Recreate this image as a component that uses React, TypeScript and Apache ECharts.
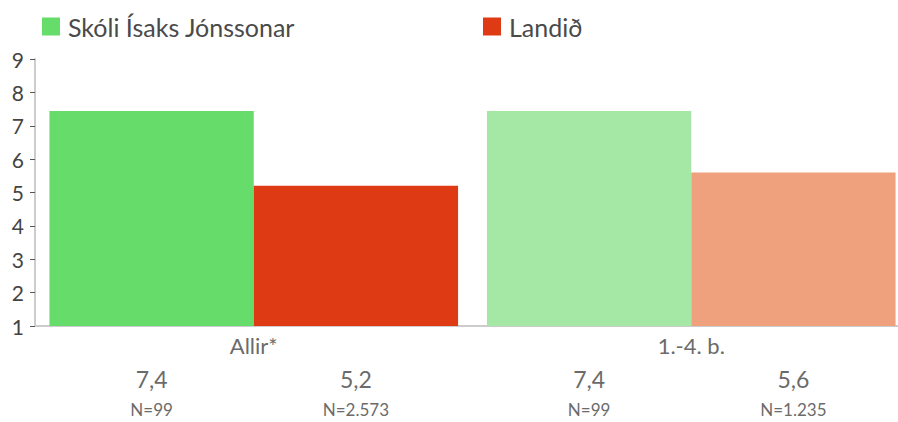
import React, { useEffect, useRef } from "react";
import * as echarts from "echarts";

const categories = ["Allir*", "1.-4. b."];
const seriesNames = ["Skóli Ísaks Jónssonar", "Landið"];
const schoolValues = [7.44, 7.44];
const countryValues = [5.2, 5.6];
const schoolN = [99, 99];
const countryN = [2573, 1235];
const yTicks = [1, 9];

const fmtVal = (v: number) => v.toFixed(1).replace(".", ",");
const fmtN = (n: number) => "N=" + String(n).replace(/\B(?=(\d{3})+(?!\d))/g, ".");

const FONT = "Lato, 'Noto Sans', sans-serif";

export default function App() {
  const ref = useRef<HTMLDivElement>(null);
  useEffect(() => {
    if (!ref.current) return;
    const chart = echarts.init(ref.current, null, { renderer: "svg" });
    const mkLabel = (ns: number[]) => ({
      show: true,
      position: "bottom",
      distance: 40,
      formatter: (p: any) => `{v|${fmtVal(p.value)}}\n{n|${fmtN(ns[p.dataIndex])}}`,
      rich: {
        v: { fontSize: 23, color: "#6b6b6b", fontFamily: FONT, lineHeight: 26 },
        n: { fontSize: 17, color: "#6b6b6b", fontFamily: FONT, lineHeight: 34 },
      },
    });
    const legendText = { fontSize: 25, color: "#4a4a4a", fontFamily: FONT, padding: [0, 0, 0, 3] };
    chart.setOption({
      animation: false,
      textStyle: { fontFamily: FONT },
      legend: [
        {
          data: [seriesNames[0]],
          left: 37,
          top: 9,
          itemWidth: 18,
          itemHeight: 18,
          icon: "rect",
          textStyle: legendText,
        },
        {
          data: [seriesNames[1]],
          left: 478,
          top: 9,
          itemWidth: 18,
          itemHeight: 18,
          icon: "rect",
          textStyle: legendText,
        },
      ],
      grid: { left: 35, right: 0, top: 59, bottom: 96, containLabel: false },
      xAxis: {
        type: "category",
        data: categories,
        axisLine: { lineStyle: { color: "#cccccc", width: 2 } },
        axisTick: { show: false },
        axisLabel: { fontSize: 22, color: "#6b6b6b", margin: 8, fontFamily: FONT },
      },
      yAxis: {
        type: "value",
        min: yTicks[0],
        max: yTicks[1],
        interval: 1,
        splitLine: { show: false },
        axisLine: { show: true, lineStyle: { color: "#cccccc", width: 2 } },
        axisTick: { show: true, length: 5, lineStyle: { color: "#555", width: 1 } },
        axisLabel: { fontSize: 21, color: "#444", margin: 11, fontFamily: FONT },
      },
      series: [
        {
          name: seriesNames[0],
          type: "bar",
          barGap: "0%",
          barCategoryGap: "6.6%",
          itemStyle: { color: "#66dd6a" },
          data: schoolValues.map((v, i) =>
            i === 1 ? { value: v, itemStyle: { color: "#a5e8a5" } } : { value: v }
          ),
          label: mkLabel(schoolN),
        },
        {
          name: seriesNames[1],
          type: "bar",
          itemStyle: { color: "#de3a14" },
          data: countryValues.map((v, i) =>
            i === 1 ? { value: v, itemStyle: { color: "#eea17c" } } : { value: v }
          ),
          label: mkLabel(countryN),
        },
      ],
    });
    return () => chart.dispose();
  }, []);
  return (
    <div style={{ width: 898, height: 422, position: "absolute", left: 0, top: 0, overflow: "hidden" }}>
      <div ref={ref} style={{ width: 910, height: 422 }} />
    </div>
  );
}
